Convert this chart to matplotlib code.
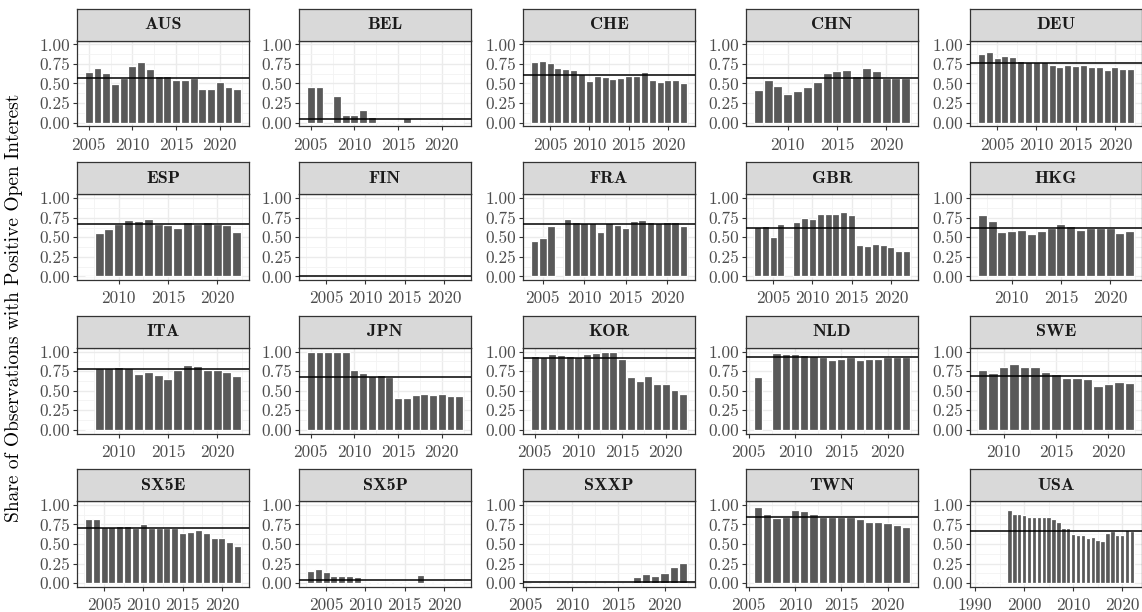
import matplotlib.pyplot as plt
import numpy as np
from matplotlib.ticker import MultipleLocator, FuncFormatter

plt.rcParams['font.family'] = 'cmr10'
plt.rcParams['mathtext.fontset'] = 'cm'
plt.rcParams['axes.formatter.use_mathtext'] = True

# share of observations with positive open interest, by year (None = no bar)
countries = ['AUS', 'BEL', 'CHE', 'CHN', 'DEU',
             'ESP', 'FIN', 'FRA', 'GBR', 'HKG',
             'ITA', 'JPN', 'KOR', 'NLD', 'SWE',
             'SX5E', 'SX5P', 'SXXP', 'TWN', 'USA']

first_year = {'AUS': 2005, 'BEL': 2005, 'CHE': 2003, 'CHN': 2007, 'DEU': 2003,
              'ESP': 2007, 'FIN': 2003, 'FRA': 2004, 'GBR': 2003, 'HKG': 2007,
              'ITA': 2007, 'JPN': 2005, 'KOR': 2005, 'NLD': 2006, 'SWE': 2008,
              'SX5E': 2003, 'SX5P': 2003, 'SXXP': 2006, 'TWN': 2006, 'USA': 1991}

aus = [0.65, 0.70, 0.64, 0.49, 0.57, 0.73, 0.78, 0.68, 0.60, 0.59, 0.54, 0.55, 0.57, 0.43, 0.43, 0.52, 0.46, 0.43]
bel = [0.45, 0.45, None, 0.34, 0.10, 0.10, 0.16, 0.07, 0.0, 0.0, 0.005, 0.06, 0.005, 0.0, 0.0, 0.003, 0.003, 0.003]
che = [0.77, 0.79, 0.76, 0.70, 0.68, 0.67, 0.62, 0.53, 0.60, 0.58, 0.56, 0.57, 0.59, 0.60, 0.65, 0.55, 0.52, 0.55, 0.55, 0.51]
chn = [0.42, 0.54, 0.47, 0.37, 0.40, 0.46, 0.52, 0.64, 0.66, 0.67, 0.60, 0.70, 0.66, 0.57, 0.57, 0.57]
deu = [0.88, 0.90, 0.83, 0.85, 0.84, 0.79, 0.77, 0.77, 0.77, 0.74, 0.71, 0.74, 0.73, 0.74, 0.71, 0.71, 0.67, 0.71, 0.68, 0.69]
esp = [0.0, 0.55, 0.60, 0.67, 0.72, 0.71, 0.74, 0.67, 0.66, 0.62, 0.70, 0.67, 0.69, 0.67, 0.66, 0.57]
fin = [0.0] * 10 + [0.01] + [0.0] * 9
fra = [0.45, 0.49, 0.65, None, 0.73, 0.70, 0.68, 0.68, 0.57, 0.68, 0.66, 0.62, 0.71, 0.72, 0.69, 0.68, 0.70, 0.70, 0.65]
gbr = [0.63, 0.64, 0.51, 0.67, None, 0.69, 0.75, 0.74, 0.80, 0.80, 0.80, 0.82, 0.78, 0.40, 0.39, 0.41, 0.40, 0.38, 0.33, 0.33]
hkg = [0.79, 0.71, 0.57, 0.58, 0.59, 0.54, 0.58, 0.62, 0.67, 0.64, 0.59, 0.62, 0.62, 0.62, 0.56, 0.58]
ita = [0.0, 0.79, 0.79, 0.80, 0.79, 0.71, 0.74, 0.70, 0.65, 0.76, 0.83, 0.81, 0.77, 0.77, 0.74, 0.69]
jpn = [0.99, 0.99, 0.99, 0.99, 0.99, 0.76, 0.73, 0.69, 0.70, 0.67, 0.41, 0.41, 0.44, 0.46, 0.45, 0.46, 0.43, 0.43]
kor = [0.94, 0.93, 0.97, 0.96, 0.95, 0.93, 0.97, 0.98, 0.99, 0.99, 0.90, 0.68, 0.62, 0.69, 0.58, 0.59, 0.51, 0.46]
nld = [0.67, None, 0.98, 0.97, 0.97, 0.96, 0.95, 0.93, 0.89, 0.90, 0.93, 0.89, 0.90, 0.91, 0.93, 0.93, 0.93]
swe = [0.77, 0.73, 0.80, 0.84, 0.80, 0.80, 0.74, 0.71, 0.66, 0.66, 0.65, 0.56, 0.58, 0.61, 0.60]
sx5e = [0.82, 0.82, 0.72, 0.72, 0.73, 0.73, 0.71, 0.76, 0.71, 0.70, 0.70, 0.71, 0.64, 0.65, 0.68, 0.64, 0.58, 0.58, 0.52, 0.47]
sx5p = [0.15, 0.18, 0.14, 0.09, 0.09, 0.09, 0.08, 0.005, 0.0, 0.005, 0.0, 0.0, 0.0, 0.0, 0.10, 0.02, 0.02, 0.02, 0.01, 0.005]
sxxp = [0.0] * 11 + [0.08, 0.11, 0.09, 0.13, 0.21, 0.26]
twn = [0.97, 0.88, 0.83, 0.85, 0.94, 0.92, 0.88, 0.85, 0.85, 0.85, 0.85, 0.82, 0.78, 0.78, 0.77, 0.74, 0.72]
usa = [0.0] * 6 + [0.93, 0.88, 0.88, 0.87, 0.85, 0.84, 0.84, 0.85, 0.85, 0.82, 0.78, 0.70, 0.70, 0.63,
                   0.61, 0.62, 0.58, 0.59, 0.55, 0.54, 0.64, 0.66, 0.62, 0.61, 0.68, 0.66]

shares = {'AUS': aus, 'BEL': bel, 'CHE': che, 'CHN': chn, 'DEU': deu,
          'ESP': esp, 'FIN': fin, 'FRA': fra, 'GBR': gbr, 'HKG': hkg,
          'ITA': ita, 'JPN': jpn, 'KOR': kor, 'NLD': nld, 'SWE': swe,
          'SX5E': sx5e, 'SX5P': sx5p, 'SXXP': sxxp, 'TWN': twn, 'USA': usa}

# overall share (horizontal line)
overall = {'AUS': 0.575, 'BEL': 0.04, 'CHE': 0.61, 'CHN': 0.565, 'DEU': 0.765,
           'ESP': 0.67, 'FIN': 0.002, 'FRA': 0.675, 'GBR': 0.625, 'HKG': 0.625,
           'ITA': 0.775, 'JPN': 0.68, 'KOR': 0.92, 'NLD': 0.935, 'SWE': 0.69,
           'SX5E': 0.70, 'SX5P': 0.04, 'SXXP': 0.015, 'TWN': 0.85, 'USA': 0.67}


def main():
    W, H = 1142, 612
    fig = plt.figure(figsize=(W / 100, H / 100), dpi=100)

    col_left = [77, 299, 523, 746, 970]
    row_top = [40.5, 194.3, 347.7, 501]
    pw, ph, sh = 172, 86, 32

    for i, c in enumerate(countries):
        r, k = divmod(i, 5)
        x0, y0 = col_left[k], row_top[r]
        ax = fig.add_axes([x0 / W, 1 - (y0 + ph) / H, pw / W, ph / H])
        vals = shares[c]
        yrs = [first_year[c] + j for j in range(len(vals))]
        xs = [y for y, v in zip(yrs, vals) if v is not None]
        hs = [v for v in vals if v is not None]
        ax.bar(xs, hs, width=0.9, color='#595959', edgecolor='white', linewidth=0.9, zorder=2)
        ax.axhline(overall[c], color='black', lw=1.1, zorder=3)

        lo, hi = min(yrs) - 0.45, max(yrs) + 0.45
        pad = (hi - lo) * 0.05
        ax.set_xlim(lo - pad, hi + pad)
        ax.set_ylim(-0.05, 1.05)

        if c == 'USA':
            ax.xaxis.set_major_locator(MultipleLocator(10))
            ax.xaxis.set_minor_locator(MultipleLocator(5))
        else:
            ax.xaxis.set_major_locator(MultipleLocator(5))
            ax.xaxis.set_minor_locator(MultipleLocator(2.5))
        ax.yaxis.set_major_locator(MultipleLocator(0.25))
        ax.yaxis.set_minor_locator(MultipleLocator(0.125))
        ax.xaxis.set_major_formatter(FuncFormatter(lambda v, p: '%d' % round(v)))
        ax.yaxis.set_major_formatter(FuncFormatter(lambda v, p: '%.2f' % v))

        ax.grid(which='major', color='#EBEBEB', lw=1.0, zorder=0)
        ax.grid(which='minor', color='#F3F3F3', lw=0.6, zorder=0)
        ax.set_axisbelow(True)
        for s in ax.spines.values():
            s.set_color('#333333')
            s.set_linewidth(0.9)
        ax.tick_params(which='major', length=2.8, width=0.8, color='#333333',
                       labelsize=12.5, labelcolor='#4D4D4D', pad=2)
        ax.tick_params(axis='x', which='major', pad=5)
        ax.tick_params(which='minor', length=0)

        sax = fig.add_axes([x0 / W, 1 - y0 / H, pw / W, sh / H])
        sax.set_facecolor('#D9D9D9')
        sax.set_xticks([])
        sax.set_yticks([])
        for s in sax.spines.values():
            s.set_color('#333333')
            s.set_linewidth(0.9)
        sax.text(0.5, 0.5, c, transform=sax.transAxes, ha='center', va='center',
                 fontsize=13, family='cmb10', color='#1A1A1A')

    fig.text(14 / W, 1 - 308 / H, 'Share of Observations with Positive Open Interest',
             rotation=90, ha='center', va='center', fontsize=14, color='black')

    fig.savefig('out.png', dpi=100)


if __name__ == '__main__':
    main()
